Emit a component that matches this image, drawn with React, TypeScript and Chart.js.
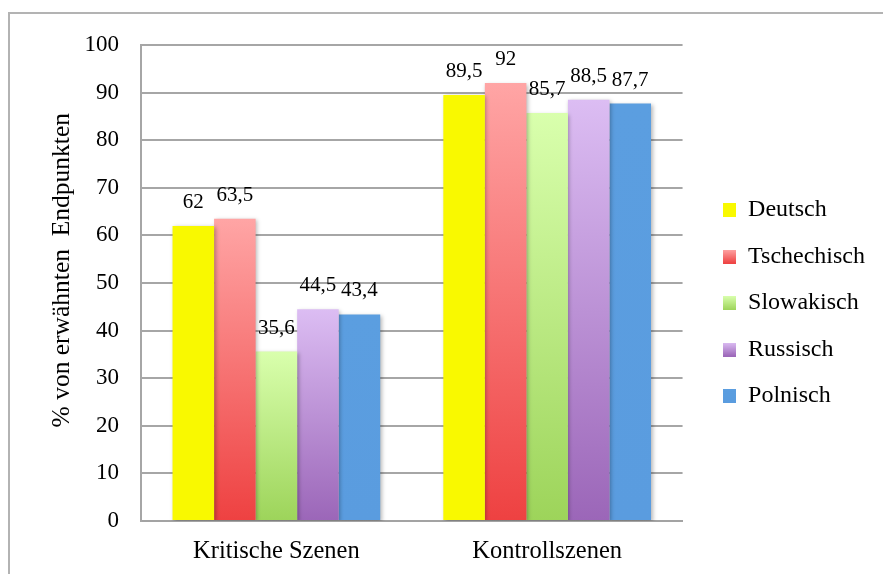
import { useEffect, useRef } from 'react';
import { Chart, registerables } from 'chart.js';

Chart.register(...registerables);

// Categories, series and values
const categories = ['Kritische Szenen', 'Kontrollszenen'];
const seriesNames = ['Deutsch', 'Tschechisch', 'Slowakisch', 'Russisch', 'Polnisch'];
const deutsch = [62, 89.5];
const tschechisch = [63.5, 92];
const slowakisch = [35.6, 85.7];
const russisch = [44.5, 88.5];
const polnisch = [43.4, 87.7];
const seriesValues = [deutsch, tschechisch, slowakisch, russisch, polnisch];

const yMin = 0;
const yMax = 100;
const yStep = 10;
const yTitle = '    % von erwähnten  Endpunkten';

// Fill colours: top and bottom of each bar's vertical gradient
const topColors = ['#f9f900', '#ffa5a5', '#d9ffad', '#dcbdf3', '#5b9ee0'];
const bottomColors = ['#f9f900', '#ee4141', '#9dd45a', '#9b66b8', '#5a9cdf'];
const midColors = ['#f9f900', '#f77373', '#bbe984', '#bc92d6', '#5b9ee0'];

const SERIF = '"Liberation Serif", "Times New Roman", Times, serif';

const formatValue = (v: number) => String(v).replace('.', ',');

function barFill(i: number) {
  return (ctx: any) => {
    const chart = ctx.chart;
    const y = chart.scales && chart.scales.y;
    if (!chart.chartArea || !y || ctx.type !== 'data') return midColors[i];
    const top = y.getPixelForValue(ctx.raw);
    const bottom = y.getPixelForValue(0);
    if (!isFinite(top) || !isFinite(bottom) || top === bottom) return midColors[i];
    const g = chart.ctx.createLinearGradient(0, top, 0, bottom);
    g.addColorStop(0, topColors[i]);
    g.addColorStop(1, bottomColors[i]);
    return g;
  };
}

function makeSwatch(i: number) {
  const c = document.createElement('canvas');
  c.width = 13;
  c.height = 14;
  const x = c.getContext('2d')!;
  const g = x.createLinearGradient(0, 0, 0, 14);
  g.addColorStop(0, topColors[i]);
  g.addColorStop(1, bottomColors[i]);
  x.fillStyle = g;
  x.fillRect(0, 0, 13, 14);
  return c;
}

// Light grey frame around the figure
const framePlugin = {
  id: 'frame',
  beforeDraw(chart: any) {
    const { ctx, width, height } = chart;
    ctx.save();
    ctx.fillStyle = '#ffffff';
    ctx.fillRect(0, 0, width, height);
    ctx.strokeStyle = '#b3b3b3';
    ctx.lineWidth = 2;
    ctx.strokeRect(9, 13, width + 20, height + 20);
    ctx.restore();
  },
};

// Soft shadow under the bars and value labels above them
const barDecorPlugin = {
  id: 'barDecor',
  beforeDatasetsDraw(chart: any) {
    const ctx = chart.ctx;
    ctx.save();
    ctx.shadowColor = 'rgba(0,0,0,0.28)';
    ctx.shadowBlur = 4;
    ctx.shadowOffsetX = 1.5;
    ctx.shadowOffsetY = 1.5;
  },
  afterDatasetsDraw(chart: any) {
    const ctx = chart.ctx;
    ctx.restore();
    ctx.save();
    ctx.font = `21px ${SERIF}`;
    ctx.fillStyle = '#000000';
    ctx.textAlign = 'center';
    ctx.textBaseline = 'alphabetic';
    chart.data.datasets.forEach((ds: any, di: number) => {
      const meta = chart.getDatasetMeta(di);
      meta.data.forEach((el: any, idx: number) => {
        ctx.fillText(formatValue(ds.data[idx]), el.x, el.y - 18);
      });
    });
    ctx.restore();
  },
};

// Move the legend column a little further from the plot
const legendShiftPlugin = {
  id: 'legendShift',
  afterLayout(chart: any) {
    const lg = chart.legend;
    if (lg) {
      lg.left += 18;
      lg.right += 18;
      lg.top -= 4;
      lg.bottom -= 4;
    }
  },
};

export default function App() {
  const canvasRef = useRef<HTMLCanvasElement>(null);

  useEffect(() => {
    const canvas = canvasRef.current;
    if (!canvas) return;
    const swatches = seriesNames.map((_, i) => makeSwatch(i));

    const chart = new Chart(canvas, {
      type: 'bar',
      data: {
        labels: categories,
        datasets: seriesNames.map((name, i) => ({
          label: name,
          data: seriesValues[i],
          backgroundColor: barFill(i),
          borderWidth: 0,
          barPercentage: 1,
          categoryPercentage: 0.767,
        })),
      },
      options: {
        responsive: false,
        animation: false,
        devicePixelRatio: 1,
        events: [],
        layout: { padding: { left: 0, right: 26, top: 45, bottom: 5 } },
        scales: {
          x: {
            grid: { display: false, drawTicks: false },
            border: { display: true, color: '#a3a3a3', width: 2 },
            ticks: {
              color: '#000000',
              font: { family: SERIF, size: 24.5 },
              padding: 16,
              maxRotation: 0,
            },
            afterFit(scale: any) {
              scale.height = 48;
            },
          },
          y: {
            min: yMin,
            max: yMax,
            grid: { color: '#a6a6a6', lineWidth: 2, drawTicks: false },
            border: { display: true, color: '#a6a6a6', width: 2 },
            ticks: {
              stepSize: yStep,
              color: '#000000',
              font: { family: SERIF, size: 23 },
              padding: 22,
            },
            title: {
              display: true,
              text: yTitle,
              color: '#000000',
              font: { family: SERIF, size: 25.5 },
              padding: { top: 47, bottom: 0 },
            },
            afterFit(scale: any) {
              scale.width = 141;
            },
          },
        },
        plugins: {
          legend: {
            position: 'right',
            align: 'center',
            labels: {
              color: '#000000',
              font: { family: SERIF, size: 24 },
              boxWidth: 13,
              boxHeight: 14,
              padding: 22.5,
              usePointStyle: true,
              generateLabels(ch: any) {
                return ch.data.datasets.map((ds: any, i: number) => ({
                  text: ds.label,
                  datasetIndex: i,
                  fillStyle: midColors[i],
                  strokeStyle: midColors[i],
                  lineWidth: 0,
                  hidden: false,
                  pointStyle: swatches[i],
                  fontColor: '#000000',
                }));
              },
            },
          },
          title: { display: false },
          tooltip: { enabled: false },
        },
      },
      plugins: [framePlugin, barDecorPlugin, legendShiftPlugin],
    } as any);

    return () => chart.destroy();
  }, []);

  return (
    <div style={{ position: 'absolute', left: 0, top: 0, width: 883, height: 574, background: '#ffffff' }}>
      <canvas ref={canvasRef} width={883} height={574} style={{ display: 'block', width: 883, height: 574 }} />
    </div>
  );
}
